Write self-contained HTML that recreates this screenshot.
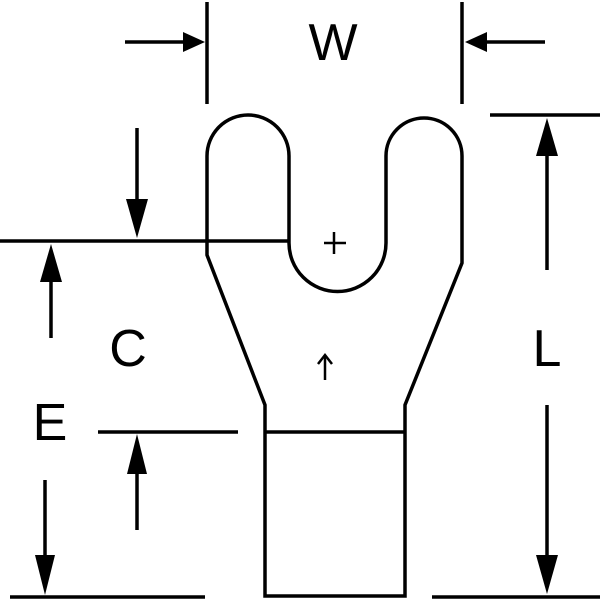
<!DOCTYPE html><html><head><style>body{margin:0;background:#fff}svg{display:block}text{font-family:"Liberation Sans",sans-serif;fill:#000}</style></head><body>
<svg width="600" height="600" viewBox="0 0 600 600">
<g fill="none" stroke="#000" stroke-width="3.5">
<path d="M265,596 L265,405 L207,255 L207,156 A41,41 0 0 1 289,156 L289,243 A48.5,48.5 0 0 0 386,243 L386,156 A38,38 0 0 1 462,156 L462,263 L405,405 L405,596 Z"/>
<line x1="265" y1="432" x2="405" y2="432"/>
<line x1="207" y1="2" x2="207" y2="104"/><line x1="462" y1="2" x2="462" y2="104"/>
<line x1="125" y1="42" x2="185" y2="42"/><line x1="545" y1="42" x2="485" y2="42"/>
<line x1="0" y1="241" x2="290" y2="241"/>
<line x1="137" y1="128" x2="137" y2="205"/>
<line x1="51" y1="338" x2="51" y2="275"/>
<line x1="98" y1="432" x2="238" y2="432"/>
<line x1="137" y1="530" x2="137" y2="468"/>
<line x1="45" y1="480" x2="45" y2="560"/>
<line x1="10" y1="597" x2="205" y2="597"/>
<line x1="490" y1="115" x2="600" y2="115"/>
<line x1="547" y1="270" x2="547" y2="150"/>
<line x1="547" y1="405" x2="547" y2="560"/>
<line x1="432" y1="597" x2="600" y2="597"/>
<line x1="325" y1="380" x2="325" y2="356" stroke-width="2.5"/>
<path d="M318,364 L325,355 L332,364" stroke-width="2.5"/>
<line x1="324" y1="243" x2="346" y2="243" stroke-width="2.5"/><line x1="334" y1="232" x2="334" y2="254" stroke-width="2.5"/>
</g>
<g fill="#000">
<path d="M205,42 L183,32 L183,52Z"/>
<path d="M465,42 L487,32 L487,52Z"/>
<path d="M137,238 L126,199 L148,199Z"/>
<path d="M51,244 L40,282 L62,282Z"/>
<path d="M137,434 L127,474 L147,474Z"/>
<path d="M45,595 L35,555 L55,555Z"/>
<path d="M547,118 L536,156 L558,156Z"/>
<path d="M547,594 L536,555 L558,555Z"/>
</g>
<text x="333" y="60" font-size="52" text-anchor="middle">W</text>
<text x="128" y="366" font-size="52" text-anchor="middle">C</text>
<text x="50" y="440" font-size="52" text-anchor="middle">E</text>
<text x="547" y="366" font-size="52" text-anchor="middle">L</text>
</svg></body></html>
